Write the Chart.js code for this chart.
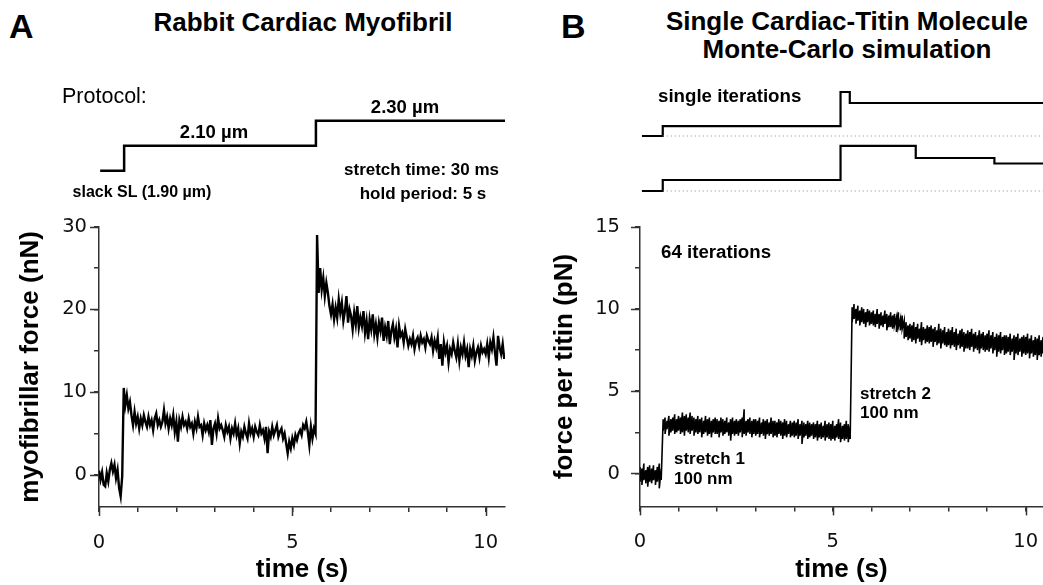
<!DOCTYPE html>
<html>
<head>
<meta charset="utf-8">
<script src="https://cdn.jsdelivr.net/npm/chart.js@4.4.1/dist/chart.umd.min.js"></script>
<style>
  html, body { margin:0; padding:0; background:#fff; }
  #wrap { position:relative; width:1043px; height:585px; overflow:hidden; background:#fff; }
  canvas { position:absolute; }
  .t { position:absolute; white-space:nowrap; line-height:1; color:#000;
       font-family:"Liberation Sans", Arial, Helvetica, sans-serif; }
  .b { font-weight:bold; }
  .c { text-align:center; width:500px; }
</style>
</head>
<body>
<div id="wrap">
  <canvas id="protoA" width="520" height="100" style="left:0;top:100px"></canvas>
  <canvas id="protoB" width="523" height="120" style="left:520px;top:80px"></canvas>
  <canvas id="cA" width="520" height="385" style="left:0;top:200px"></canvas>
  <canvas id="cB" width="540" height="385" style="left:520px;top:200px"></canvas>

  <div class="t b" style="left:9px;top:9px;font-size:34px">A</div>
  <div class="t b c" style="left:53px;top:9px;font-size:26px">Rabbit Cardiac Myofibril</div>
  <div class="t b" style="left:561px;top:9px;font-size:34px">B</div>
  <div class="t b c" style="left:597px;top:8px;font-size:26px">Single Cardiac-Titin Molecule</div>
  <div class="t b c" style="left:597px;top:35.5px;font-size:26px">Monte-Carlo simulation</div>

  <div class="t" style="left:62px;top:85.5px;font-size:21.5px">Protocol:</div>
  <div class="t b c" style="left:-36px;top:122.5px;font-size:18.5px">2.10 µm</div>
  <div class="t b c" style="left:155px;top:97.5px;font-size:18.5px">2.30 µm</div>
  <div class="t b c" style="left:-108px;top:184px;font-size:16px">slack SL (1.90 µm)</div>
  <div class="t b c" style="left:171.5px;top:160.5px;font-size:17px">stretch time: 30 ms</div>
  <div class="t b c" style="left:173px;top:184.5px;font-size:17px">hold period: 5 s</div>

  <div class="t b" style="left:658px;top:86.5px;font-size:18.7px">single iterations</div>
  <div class="t b" style="left:661px;top:243px;font-size:18.7px">64 iterations</div>
  <div class="t b" style="left:674px;top:449.5px;font-size:17px">stretch 1</div>
  <div class="t b" style="left:674px;top:469.5px;font-size:17px">100 nm</div>
  <div class="t b" style="left:860px;top:384.5px;font-size:17px">stretch 2</div>
  <div class="t b" style="left:860px;top:404px;font-size:17px">100 nm</div>
</div>

<script>
// ---------------- DATA ----------------
// Panel A: myofibrillar force (nN), sampled every DT_A seconds from t = 0
const DT_A = 0.04;
const forceA = [
  0.5, -0.6, 0.3, -1.2, -1.4, 0.2, -0.8, 0.6, 1.4, 0.4,
  1.2, -0.4, 0.6, -1.6, -2.6, -0.2, 10.5, 8.4, 9.6, 8.0,
  8.8, 7.2, 6.0, 7.6, 6.2, 7.0, 5.6, 6.8, 6.0, 7.2,
  6.4, 5.8, 7.0, 6.0, 6.6, 5.4, 6.8, 7.4, 6.0, 6.6,
  5.8, 6.4, 7.8, 6.2, 7.0, 5.6, 6.8, 6.0, 7.2, 5.2,
  6.4, 4.0, 6.6, 5.8, 7.0, 6.0, 6.4, 5.6, 6.8, 5.8,
  6.2, 5.0, 6.4, 5.6, 7.0, 5.8, 6.0, 4.8, 6.2, 5.4,
  6.0, 5.2, 6.6, 3.6, 5.6, 6.2, 5.0, 6.8, 5.6, 6.0,
  5.4, 4.6, 6.0, 5.2, 5.8, 4.4, 5.6, 5.0, 6.2, 4.8,
  5.6, 3.8, 5.2, 4.6, 5.8, 5.0, 4.4, 6.2, 5.0, 5.6,
  4.6, 5.8, 5.2, 4.8, 6.0, 5.0, 5.4, 4.4, 5.8, 2.6,
  5.2, 4.6, 5.8, 4.8, 5.4, 6.0, 4.6, 5.2, 5.6, 4.4,
  5.0, 3.8, 2.6, 4.0, 3.2, 4.4, 3.6, 4.8, 4.2, 5.0,
  5.4, 4.8, 6.0, 5.6, 6.4, 5.2, 3.6, 5.8, 4.4, 5.6,
  5.0, 29.0,
  22.0, 25.0, 22.4, 23.8, 21.6, 23.2, 22.0, 20.4,
  19.4, 20.6, 18.8, 20.2, 19.0, 21.2, 19.6, 20.8, 18.6, 19.8,
  21.6, 18.4, 20.0, 19.2, 17.6, 19.6, 18.2, 20.4, 17.8, 19.0,
  18.0, 19.8, 17.2, 18.6, 16.4, 18.8, 17.6, 19.4, 17.0, 18.2,
  16.6, 18.4, 17.4, 19.0, 16.2, 17.8, 16.8, 18.6, 15.8, 17.4,
  18.2, 16.6, 17.6, 15.4, 18.0, 16.8, 17.2, 16.0, 17.6, 16.6,
  15.6, 16.4, 15.8, 16.8, 15.2, 16.2, 16.6, 15.6, 16.8, 16.0,
  16.4, 15.4, 16.8, 16.2, 15.8, 16.6, 15.0, 16.2, 15.4, 16.6,
  14.0, 15.8, 13.2, 16.0, 14.8, 15.6, 13.6, 15.2, 14.6, 16.0,
  15.0, 14.2, 15.8, 13.8, 15.4, 14.6, 16.0, 14.4, 15.2, 13.0,
  15.2, 14.4, 15.6, 13.8, 14.8, 15.4, 14.2, 15.6, 14.8, 15.2,
  14.6, 15.8, 14.2, 16.0, 15.2, 16.6, 14.8, 13.2, 16.8, 15.4, 14.6, 15.8, 14.0
];

// Panel B: force per titin (pN), 64 iterations; per DT_B-second bin the
// highest and lowest excursion of the dense trace (min/max envelope)
const DT_B = 0.05;
const forceBmax = [
  0.4, 0.3, 0.6, 0.2, 0.4, 0.5, 0.3, 0.5, 0.2, 0.4, 0.6, 0.3,
  3.3, 3.4, 3.2, 3.5, 3.3, 3.4, 3.6, 3.3,
  3.5, 3.4, 3.7, 3.5, 3.6, 3.4, 3.7, 3.5, 3.4, 3.3,
  3.5, 3.3, 3.4, 3.2, 3.5, 3.3, 3.4, 3.2, 3.3, 3.4,
  3.3, 3.2, 3.4, 3.3, 3.2, 3.4, 3.1, 3.3, 3.4, 3.2,
  3.3, 3.2, 3.3, 3.4, 3.9, 3.2, 3.3, 3.4, 3.2, 3.3,
  3.3, 3.2, 3.4, 3.1, 3.3, 3.2, 3.3, 3.1, 3.4, 3.2,
  3.2, 3.1, 3.3, 3.2, 3.1, 3.3, 3.2, 3.0, 3.2, 3.1,
  3.2, 3.1, 3.3, 3.0, 3.2, 3.1, 3.0, 3.2, 3.1, 3.0,
  3.1, 3.0, 3.2, 3.0, 3.1, 2.9, 3.2, 3.0, 3.1, 3.0,
  3.2, 2.9, 3.0, 3.3, 3.1, 2.9, 3.0, 3.2, 3.0, 2.9,
  10.1, 10.3, 10.0, 10.2, 9.9, 10.1, 10.0, 9.8, 10.0, 9.9,
  9.8, 9.9, 9.7, 10.0, 9.7, 9.8, 9.6, 9.9, 9.7, 9.6,
  9.8, 9.6, 9.7, 9.5, 9.8, 9.4, 9.6, 9.3, 9.2, 9.0,
  9.1, 9.0, 9.2, 8.9, 9.1, 8.8, 9.2, 8.9, 8.8, 9.0,
  8.9, 9.0, 8.8, 8.9, 8.7, 9.1, 8.8, 8.7, 8.9, 8.6,
  8.8, 8.7, 8.9, 8.6, 8.8, 8.5, 8.7, 8.8, 8.6, 8.5,
  8.7, 8.6, 8.8, 8.5, 8.6, 8.4, 8.7, 8.5, 8.6, 8.4,
  8.5, 8.7, 8.4, 8.6, 8.3, 8.5, 8.4, 8.6, 8.3, 8.4,
  8.4, 8.3, 8.5, 8.2, 8.4, 8.3, 8.5, 8.2, 8.3, 8.4,
  8.3, 8.5, 8.2, 8.4, 8.1, 8.3, 8.2, 8.4, 8.1, 8.3, 8.2
];
const forceBmin = [
  -0.5, -0.7, -0.4, -0.6, -0.8, -0.5, -0.6, -0.4, -0.7, -0.5, -0.9, -0.4,
  2.6, 2.4, 2.7, 2.3, 2.5, 2.6, 2.4, 2.5,
  2.6, 2.4, 2.5, 2.3, 2.6, 2.5, 2.4, 2.6, 2.3, 2.5,
  2.4, 2.5, 2.2, 2.4, 2.5, 2.3, 2.4, 2.2, 2.5, 2.4,
  2.4, 2.2, 2.5, 2.3, 2.4, 2.5, 2.3, 2.0, 2.4, 2.3,
  2.4, 2.3, 2.5, 2.2, 2.4, 2.3, 2.5, 2.4, 2.2, 2.4,
  2.3, 2.4, 2.2, 2.4, 2.3, 2.1, 2.4, 2.3, 2.4, 2.2,
  2.3, 2.2, 2.4, 2.3, 2.1, 2.3, 2.2, 2.4, 2.2, 2.3,
  2.2, 2.3, 2.1, 2.3, 1.8, 2.2, 2.3, 2.1, 2.2, 2.3,
  2.1, 2.2, 2.0, 2.2, 2.1, 2.2, 2.0, 2.2, 2.1, 2.0,
  2.1, 2.0, 2.2, 2.1, 1.9, 2.1, 2.0, 2.1, 1.9, 2.1,
  9.2, 9.4, 9.1, 9.3, 9.0, 9.2, 9.1, 8.9, 9.2, 9.0,
  9.1, 9.0, 8.9, 9.1, 8.8, 9.0, 8.9, 9.1, 8.7, 8.9,
  8.9, 8.8, 9.0, 8.6, 8.9, 8.7, 8.8, 8.2, 8.3, 8.1,
  8.2, 8.0, 8.1, 7.9, 8.2, 8.0, 7.8, 8.1, 7.9, 8.0,
  7.9, 8.0, 7.7, 8.0, 7.8, 7.9, 7.6, 7.9, 7.8, 7.7,
  7.8, 7.6, 7.8, 7.7, 7.5, 7.8, 7.6, 7.7, 7.4, 7.6,
  7.6, 7.5, 7.7, 7.4, 7.6, 7.5, 7.3, 7.6, 7.5, 7.4,
  7.5, 7.4, 7.6, 7.3, 7.5, 7.1, 7.4, 7.3, 7.5, 7.2,
  7.3, 7.4, 7.2, 7.4, 6.9, 7.3, 7.2, 7.4, 7.1, 7.3,
  7.2, 7.3, 7.0, 7.3, 7.1, 7.2, 6.9, 7.2, 7.1, 7.3, 7.2
];

// Protocol (panel A): sarcomere length steps (µm), value starts at given time
const protoTimes = [0.03, 0.65, 5.61, 10.5];
const protoSL    = [1.90, 2.10, 2.30, 2.30];

// Single iterations (panel B): force steps, arbitrary units, value starts at given time
const iter1Times = [0.05, 0.59, 5.20, 5.44, 10.45];
const iter1Force = [0, 0.9, 4.0, 3.0, 3.0];
const iter2Times = [0.05, 0.59, 5.20, 7.15, 9.19, 10.45];
const iter2Force = [0, 1.0, 4.1, 3.0, 2.5, 2.5];
const ITER1_OFFSET = 5;
const baselineTimes = [0.59, 10.45];

// Tick labels
const xLabels  = [0, 5, 10];
const yLabelsA = [0, 10, 20, 30];
const yLabelsB = [0, 5, 10, 15];

// ---------------- STYLE ----------------
const AXIS = '#333333';
const AXIS_W = 1.5;
const MINOR_LEN = 5;
const MAJOR_LEN = 9;
const FONT = '"Liberation Sans", Arial, Helvetica, sans-serif';
const TICK_FONT = '"DejaVu Sans", "Liberation Sans", Arial, sans-serif';
const TICK_SIZE = 19.5;

function pts(times, vals, off) {
  return vals.map((v, i) => ({ x: times[i], y: v + (off || 0) }));
}
function sampled(vals, dt) {
  return vals.map((v, i) => ({ x: Math.round(i * dt * 1000) / 1000, y: v }));
}
function envelope(hi, lo, dt) {
  const out = [];
  hi.forEach((h, i) => {
    const t = Math.round(i * dt * 1000) / 1000;
    out.push({ x: t, y: h }, { x: t, y: lo[i] });
  });
  return out;
}

function majorTicks(xMaj, yMaj) {
  return {
    id: 'majorTicks',
    afterDraw(chart) {
      const ctx = chart.ctx, xs = chart.scales.x, ys = chart.scales.y;
      ctx.save();
      ctx.strokeStyle = AXIS; ctx.lineWidth = AXIS_W;
      xs.ticks.forEach(t => {
        if (xMaj.includes(t.value)) {
          const p = Math.round(xs.getPixelForValue(t.value)) + 0.5;
          ctx.beginPath(); ctx.moveTo(p, xs.top); ctx.lineTo(p, xs.top + MAJOR_LEN); ctx.stroke();
        }
      });
      ys.ticks.forEach(t => {
        if (yMaj.includes(t.value)) {
          const p = Math.round(ys.getPixelForValue(t.value)) + 0.5;
          ctx.beginPath(); ctx.moveTo(ys.right - MAJOR_LEN, p); ctx.lineTo(ys.right, p); ctx.stroke();
        }
      });
      ctx.restore();
    }
  };
}

function axisCommon() {
  return {
    type: 'linear',
    border: { display: true, color: AXIS, width: AXIS_W },
    grid: { drawOnChartArea: false, drawTicks: true, tickLength: MINOR_LEN, color: AXIS, lineWidth: AXIS_W }
  };
}

function mainChart(id, data, o) {
  return new Chart(document.getElementById(id), {
    type: 'line',
    data: { datasets: [{ data: data, borderColor: '#000', borderWidth: o.lw, pointRadius: 0, tension: 0, fill: false, borderJoinStyle: 'miter' }] },
    options: {
      responsive: false, animation: false, devicePixelRatio: 1,
      layout: { padding: o.pad },
      plugins: { legend: { display: false }, tooltip: { enabled: false } },
      scales: {
        x: Object.assign(axisCommon(), {
          min: 0, max: o.xmax,
          afterFit: s => { s.height = o.xh; },
          ticks: { stepSize: 1, includeBounds: false, autoSkip: false, maxRotation: 0, minRotation: 0,
                   padding: 19, color: '#111', font: { family: TICK_FONT, size: TICK_SIZE },
                   callback: v => xLabels.includes(v) ? String(v) : '' },
          title: { display: true, text: 'time (s)', color: '#000',
                   font: { family: FONT, size: 26, weight: 'bold' }, padding: { top: 0, bottom: 0 } }
        }),
        y: Object.assign(axisCommon(), {
          min: o.ymin, max: o.ymax,
          afterFit: s => { s.width = o.yw; },
          ticks: { stepSize: o.ystep, includeBounds: false, autoSkip: false, padding: o.ytp, color: '#111',
                   font: { family: TICK_FONT, size: TICK_SIZE },
                   callback: v => o.ylabels.includes(v) ? String(v) : '' },
          title: { display: true, text: o.ytitle, color: '#000',
                   font: { family: FONT, size: 26, weight: 'bold' }, padding: { top: o.ytpad, bottom: 0 } }
        })
      }
    },
    plugins: [majorTicks(xLabels, o.ylabels)]
  });
}

mainChart('cA', sampled(forceA, DT_A), {
  lw: 2.4, pad: { top: 26.7, right: 15, left: 0, bottom: 0 },
  xmax: 10.5, xh: 78, ymin: -3.9, ymax: 30, ystep: 5, yw: 99, ytp: 7,
  ylabels: yLabelsA, ytitle: 'myofibrillar force (nN)', ytpad: 15
});

mainChart('cB', envelope(forceBmax, forceBmin, DT_B), {
  lw: 1.6, pad: { top: 25, right: 17, left: 0, bottom: 0 },
  xmax: 10.45, xh: 78.6, ymin: -2, ymax: 15, ystep: 2.5, yw: 120, ytp: 15,
  ylabels: yLabelsB, ytitle: 'force per titin (pN)', ytpad: 29
});

function stepChart(id, datasets, o) {
  return new Chart(document.getElementById(id), {
    type: 'line',
    data: { datasets: datasets },
    options: {
      responsive: false, animation: false, devicePixelRatio: 1,
      layout: { padding: o.pad },
      plugins: { legend: { display: false }, tooltip: { enabled: false } },
      scales: {
        x: { type: 'linear', display: false, min: 0, max: o.xmax },
        y: { type: 'linear', display: false, min: o.ymin, max: o.ymax }
      }
    }
  });
}

const stepStyle = { borderColor: '#000', borderWidth: 2.5, pointRadius: 0, stepped: true, fill: false, clip: false };
const dotStyle  = { borderColor: '#8a8a8a', borderWidth: 1, borderDash: [1, 3], pointRadius: 0, fill: false, clip: false };

stepChart('protoA', [
  Object.assign({ data: pts(protoTimes, protoSL) }, stepStyle)
], { pad: { left: 99, right: 15, top: 8.2, bottom: 16.8 }, xmax: 10.5, ymin: 1.8, ymax: 2.4 });

stepChart('protoB', [
  Object.assign({ data: pts(baselineTimes, [0, 0], ITER1_OFFSET) }, dotStyle),
  Object.assign({ data: pts(baselineTimes, [0, 0]) }, dotStyle),
  Object.assign({ data: pts(iter1Times, iter1Force, ITER1_OFFSET) }, stepStyle, { borderWidth: 2.2 }),
  Object.assign({ data: pts(iter2Times, iter2Force) }, stepStyle, { borderWidth: 2.2 })
], { pad: { left: 120, right: 0, top: 1, bottom: 3.5 }, xmax: 10.45, ymin: -0.5, ymax: 10 });
</script>
</body>
</html>
